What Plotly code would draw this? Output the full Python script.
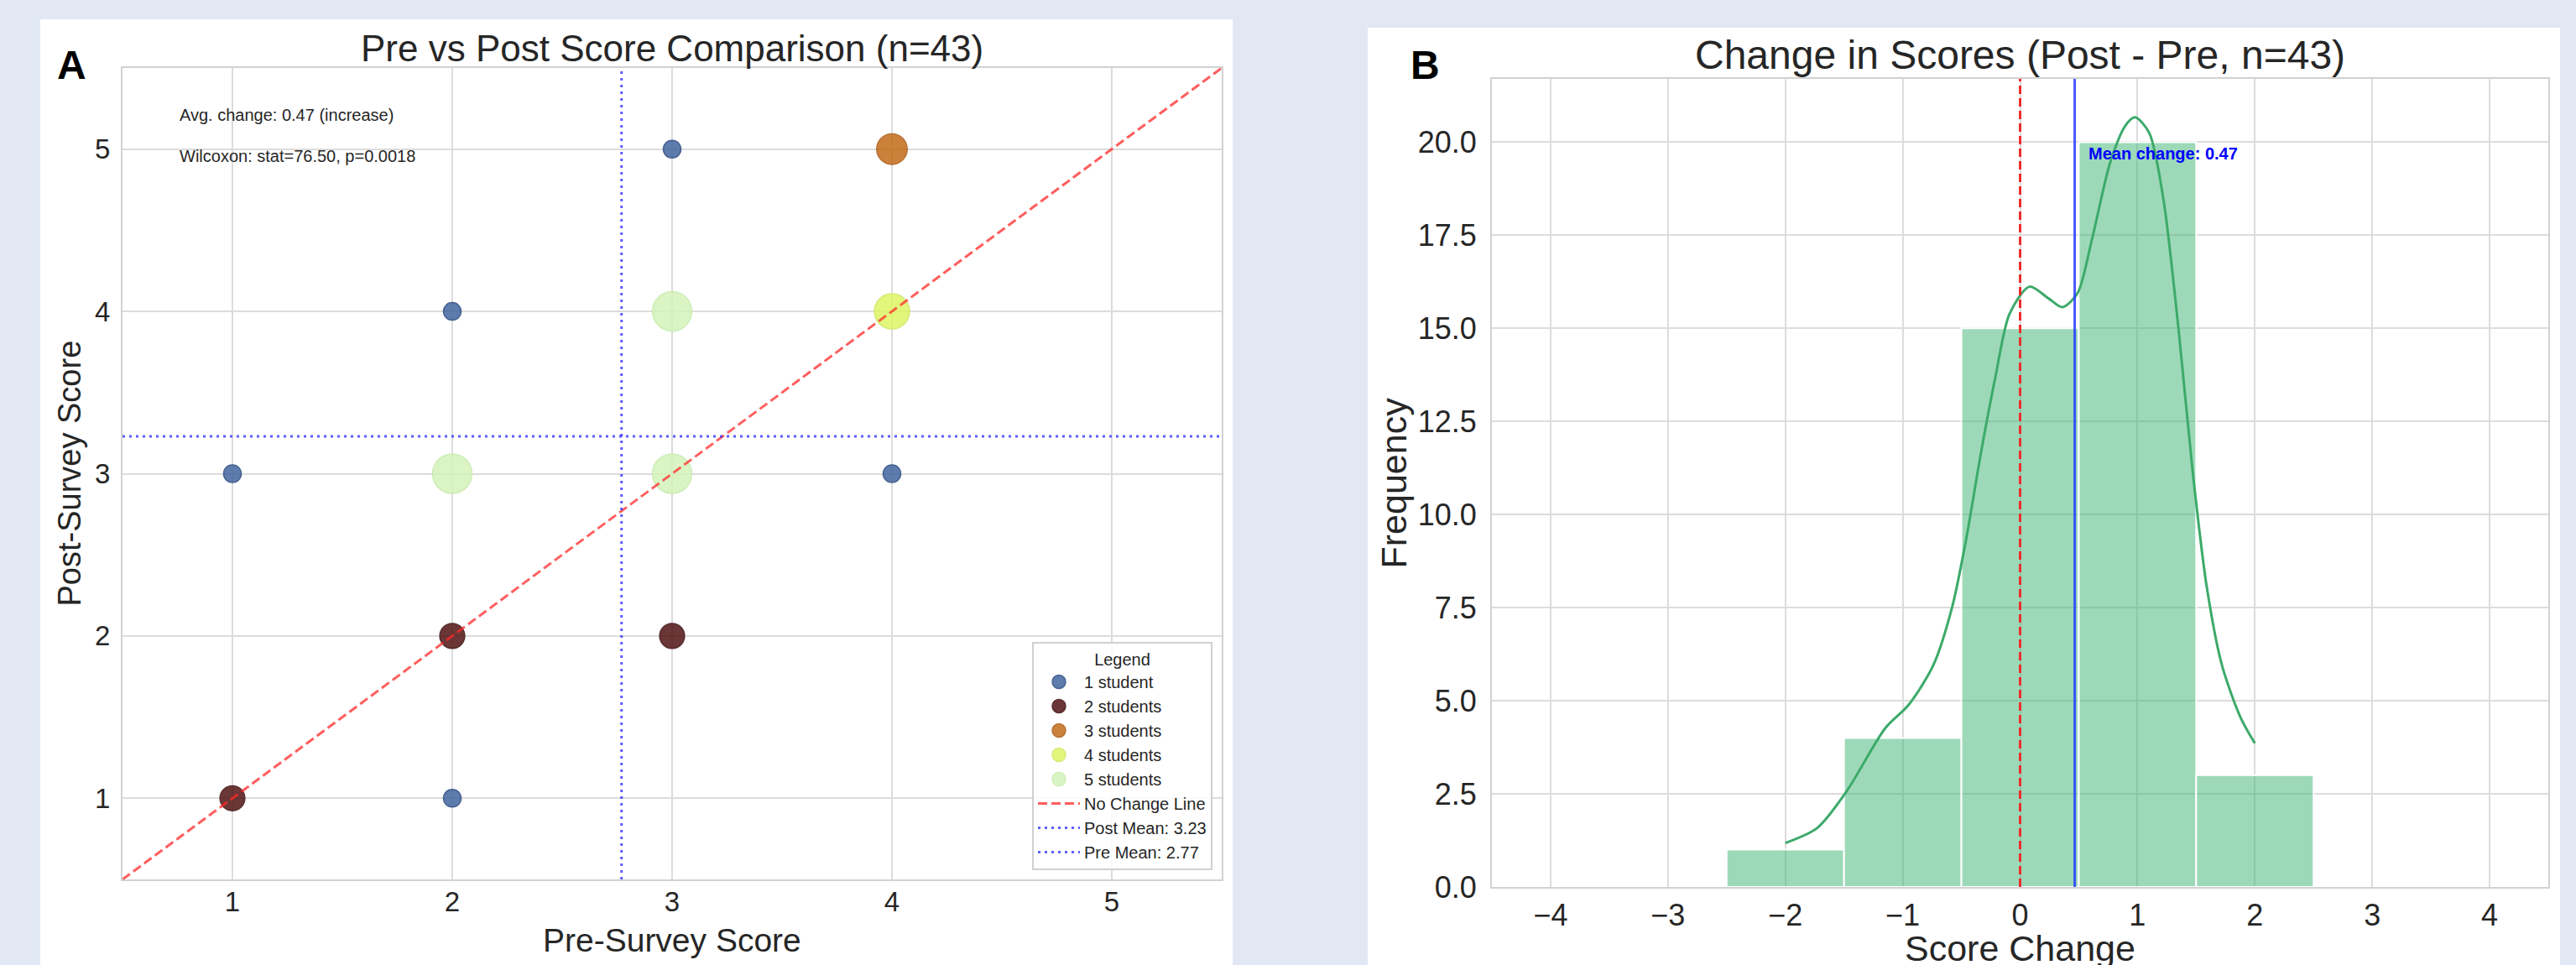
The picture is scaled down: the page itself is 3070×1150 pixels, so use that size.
import plotly.graph_objects as go

# ---------------- data ----------------
# Panel A: pre/post score pairs and number of students at each pair
pre_scores = [1, 2, 3, 4, 3, 4, 2, 3, 4, 2, 3, 1, 2]
post_scores = [3, 4, 5, 5, 4, 4, 3, 3, 3, 2, 2, 1, 1]
student_counts = [1, 1, 1, 3, 9, 4, 8, 7, 1, 2, 2, 2, 1]
group_labels = ["1 student", "2 students", "3 students", "4 students", "5 students"]
pre_mean = 2.77
post_mean = 3.23
avg_change = 0.47
wilcoxon_stat = 76.50
wilcoxon_p = 0.0018

# Panel B: histogram of score changes + KDE
change_bins = [-2, -1, 0, 1, 2]
change_freq = [1, 4, 15, 20, 3]
kde_x = [-2.0, -1.73, -1.48, -1.15, -0.95, -0.74, -0.58, -0.46, -0.33, -0.21, -0.09,
         0.08, 0.24, 0.36, 0.49, 0.61, 0.77, 0.90, 0.98, 1.10, 1.22, 1.35, 1.47,
         1.59, 1.72, 1.88, 2.0]
kde_y = [1.18, 1.58, 2.56, 4.26, 4.89, 5.95, 7.50, 9.33, 11.72, 13.70, 15.39,
         16.12, 15.81, 15.57, 15.95, 17.36, 19.48, 20.46, 20.67, 20.25, 18.49, 14.97, 11.16,
         8.06, 5.95, 4.54, 3.86]
mean_change = 0.465

# ---------------- styling ----------------
W, H_REF = 3070, 1150
H_FIG = 1171          # compensates the vertical squeeze seen in the rendered photo
FONT = "Liberation Sans, Arial, sans-serif"
TXT = "#262626"
GRID = "#dcdcdc"
SPINE = "#d2d2d2"
PAGE_BG = "#e1e8f4"

fills = ["rgb(67,102,161)", "rgb(82,20,20)", "rgb(196,108,26)", "rgb(222,245,100)", "rgb(212,243,186)"]
edges = ["rgb(40,70,125)", "rgb(60,10,10)", "rgb(170,90,20)", "rgb(205,232,95)", "rgb(198,235,172)"]
base_diam = 21


def px_x(p):
    return p / W


def px_y(p):
    return 1 - p / H_REF


A_dom_x = [px_x(146), px_x(1456)]
A_dom_y = [px_y(1048), px_y(81)]
B_dom_x = [px_x(1778), px_x(3037)]
B_dom_y = [px_y(1057), px_y(94)]

A_xr = [0.5, 5.5]
A_yr = [0.5, 5.5]
B_xr = [-4.5, 4.5]
B_yr = [0, 21.7]

fig = go.Figure()

# ---- Panel A scatter (grouped by count, capped at 5) ----
for g in range(5):
    xs, ys = [], []
    for p, q, c in zip(pre_scores, post_scores, student_counts):
        if min(c, 5) == g + 1:
            xs.append(p)
            ys.append(q)
    fig.add_trace(go.Scatter(
        x=xs, y=ys, mode="markers", name=group_labels[g],
        marker=dict(size=base_diam * (g + 1) ** 0.5, color=fills[g], opacity=0.85,
                    line=dict(color=edges[g], width=1.5)),
        xaxis="x", yaxis="y", showlegend=True))

fig.add_trace(go.Scatter(x=A_xr, y=A_yr, mode="lines", name="No Change Line",
                         line=dict(color="rgba(255,40,40,0.75)", width=3, dash="11px,5px"),
                         xaxis="x", yaxis="y"))
fig.add_trace(go.Scatter(x=A_xr, y=[post_mean, post_mean], mode="lines",
                         name=f"Post Mean: {post_mean:.2f}",
                         line=dict(color="rgba(40,40,255,0.75)", width=3, dash="3px,5px"),
                         xaxis="x", yaxis="y"))
fig.add_trace(go.Scatter(x=[pre_mean, pre_mean], y=A_yr, mode="lines",
                         name=f"Pre Mean: {pre_mean:.2f}",
                         line=dict(color="rgba(40,40,255,0.75)", width=3, dash="3px,5px"),
                         xaxis="x", yaxis="y"))

# ---- Panel B histogram + KDE ----
fig.add_trace(go.Bar(x=change_bins, y=change_freq, width=1,
                     marker=dict(color="rgba(60,179,113,0.5)", line=dict(color="white", width=2)),
                     xaxis="x2", yaxis="y2", showlegend=False))
fig.add_trace(go.Scatter(x=kde_x, y=kde_y, mode="lines",
                         line=dict(color="rgb(60,170,105)", width=3, shape="spline", smoothing=0.8),
                         xaxis="x2", yaxis="y2", showlegend=False))
fig.add_trace(go.Scatter(x=[0, 0], y=B_yr, mode="lines",
                         line=dict(color="rgb(238,45,45)", width=3, dash="10px,5px"),
                         xaxis="x2", yaxis="y2", showlegend=False))
fig.add_trace(go.Scatter(x=[mean_change, mean_change], y=B_yr, mode="lines",
                         line=dict(color="rgba(40,60,255,0.85)", width=3),
                         xaxis="x2", yaxis="y2", showlegend=False))

axis_common = dict(showgrid=True, gridcolor=GRID, gridwidth=2, zeroline=False,
                   showline=True, linecolor=SPINE, linewidth=2, mirror=True,
                   ticks="", color=TXT)

fig.update_layout(
    width=W, height=H_FIG,
    margin=dict(l=0, r=0, t=0, b=0),
    paper_bgcolor=PAGE_BG, plot_bgcolor="white",
    font=dict(family=FONT, color=TXT),
    xaxis=dict(domain=A_dom_x, range=A_xr, tickvals=[1, 2, 3, 4, 5],
               tickfont=dict(size=33), ticklabelstandoff=-4, anchor="y", **axis_common),
    yaxis=dict(domain=A_dom_y, range=A_yr, tickvals=[1, 2, 3, 4, 5],
               tickfont=dict(size=33), ticklabelstandoff=6, anchor="x", **axis_common),
    xaxis2=dict(domain=B_dom_x, range=B_xr, tickvals=[-4, -3, -2, -1, 0, 1, 2, 3, 4],
                tickfont=dict(size=36), ticklabelstandoff=1, anchor="y2", **axis_common),
    yaxis2=dict(domain=B_dom_y, range=B_yr, tickvals=[0, 2.5, 5, 7.5, 10, 12.5, 15, 17.5, 20],
                tickformat=".1f", tickfont=dict(size=36), ticklabelstandoff=9,
                anchor="x2", **axis_common),
    legend=dict(x=px_x(1445), y=px_y(1037), xanchor="right", yanchor="bottom",
                bgcolor="rgba(255,255,255,0.85)", bordercolor="#d0d0d0", borderwidth=2,
                font=dict(size=20, color=TXT), itemsizing="trace", itemwidth=50,
                title=dict(text="Legend", side="top center", font=dict(size=20, color=TXT)),
                tracegroupgap=0),
    showlegend=True,
)

# white panel backgrounds
fig.add_shape(type="rect", xref="paper", yref="paper", x0=px_x(48), x1=px_x(1469),
              y0=-0.2, y1=px_y(23), fillcolor="white", line=dict(width=0), layer="below")
fig.add_shape(type="rect", xref="paper", yref="paper", x0=px_x(1630), x1=px_x(3051),
              y0=-0.2, y1=px_y(33), fillcolor="white", line=dict(width=0), layer="below")

ann = []
# titles
ann.append(dict(text="Pre vs Post Score Comparison (n=43)", x=sum(A_dom_x) / 2, y=px_y(57),
                xref="paper", yref="paper", xanchor="center", yanchor="middle",
                showarrow=False, font=dict(size=44, color=TXT)))
ann.append(dict(text="Change in Scores (Post - Pre, n=43)", x=sum(B_dom_x) / 2, y=px_y(65),
                xref="paper", yref="paper", xanchor="center", yanchor="middle",
                showarrow=False, font=dict(size=48, color=TXT)))
# panel letters
ann.append(dict(text="<b>A</b>", x=px_x(66), y=px_y(77), xref="paper", yref="paper",
                xanchor="left", yanchor="middle", showarrow=False,
                font=dict(size=48, color="black", family="Liberation Sans, Arial")))
ann.append(dict(text="<b>B</b>", x=px_x(1679), y=px_y(77), xref="paper", yref="paper",
                xanchor="left", yanchor="middle", showarrow=False,
                font=dict(size=48, color="black", family="Liberation Sans, Arial")))
# axis titles
ann.append(dict(text="Pre-Survey Score", x=sum(A_dom_x) / 2, y=px_y(1120), xref="paper",
                yref="paper", xanchor="center", yanchor="middle", showarrow=False,
                font=dict(size=39, color=TXT)))
ann.append(dict(text="Post-Survey Score", x=px_x(82), y=sum(A_dom_y) / 2, xref="paper",
                yref="paper", xanchor="center", yanchor="middle", textangle=-90,
                showarrow=False, font=dict(size=38, color=TXT)))
ann.append(dict(text="Score Change", x=sum(B_dom_x) / 2, y=px_y(1130), xref="paper",
                yref="paper", xanchor="center", yanchor="middle", showarrow=False,
                font=dict(size=43, color=TXT)))
ann.append(dict(text="Frequency", x=px_x(1660), y=sum(B_dom_y) / 2, xref="paper",
                yref="paper", xanchor="center", yanchor="middle", textangle=-90,
                showarrow=False, font=dict(size=43, color=TXT)))
# stats text in panel A
ann.append(dict(text=f"Avg. change: {avg_change:.2f} (increase)", x=0.05, y=0.942,
                xref="x domain", yref="y domain", xanchor="left", yanchor="middle",
                showarrow=False, font=dict(size=20, color=TXT)))
ann.append(dict(text=f"Wilcoxon: stat={wilcoxon_stat:.2f}, p={wilcoxon_p:.4f}", x=0.05, y=0.891,
                xref="x domain", yref="y domain", xanchor="left", yanchor="middle",
                showarrow=False, font=dict(size=20, color=TXT)))
# mean change label in panel B
ann.append(dict(text=f"<b>Mean change: {mean_change:.2f}</b>", x=mean_change + 0.1, y=19.7,
                xref="x2", yref="y2", xanchor="left", yanchor="middle", showarrow=False,
                font=dict(size=20, color="blue", family="Liberation Sans, Arial")))

fig.update_layout(annotations=ann)

fig.write_html(
    "out.html",
    config={"displayModeBar": False},
    post_script=("document.body.style.margin='0';document.body.style.padding='0';"
                 "document.body.style.overflow='hidden';"
                 "document.body.style.background='" + PAGE_BG + "';"),
)
